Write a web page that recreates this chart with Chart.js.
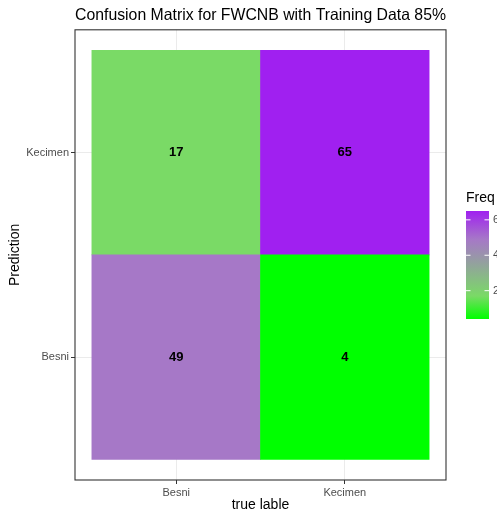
<!DOCTYPE html>
<html>
<head>
<meta charset="utf-8">
<script src="https://cdn.jsdelivr.net/npm/chart.js@4"></script>
<style>
  html, body { margin: 0; padding: 0; background: #fff; }
  canvas { display: block; }
</style>
</head>
<body>
<canvas id="chartCM" width="497" height="515"></canvas>
<script>
// data
const trueLabels = ["Besni", "Kecimen"];
const predLabels = ["Besni", "Kecimen"];
const freqPredBesni = [49, 4];     // prediction Besni, true Besni / Kecimen
const freqPredKecimen = [17, 65];  // prediction Kecimen, true Besni / Kecimen
const legendTicks = [20, 40, 60];

const allFreq = freqPredBesni.concat(freqPredKecimen);
const fMin = Math.min.apply(null, allFreq);
const fMax = Math.max.apply(null, allFreq);

// green -> purple fill scale
const stops = [
  [0, [0, 255, 0]],
  [0.213, [122, 218, 102]],
  [0.5, [146, 164, 155]],
  [0.738, [166, 120, 199]],
  [1, [160, 32, 240]]
];
function colorFor(v) {
  let t = (v - fMin) / (fMax - fMin);
  for (let i = 1; i < stops.length; i++) {
    if (t <= stops[i][0]) {
      let a = stops[i - 1], b = stops[i];
      let k = (t - a[0]) / (b[0] - a[0]);
      let c = a[1].map((x, j) => Math.round(x + (b[1][j] - x) * k));
      return "rgb(" + c.join(",") + ")";
    }
  }
  return "rgb(160,32,240)";
}

function rowDataset(values, row) {
  return {
    label: predLabels[row],
    data: values.map(function (v, i) {
      return { x: i + 1, y: [row + 0.5, row + 1.5], v: v };
    }),
    backgroundColor: values.map(colorFor),
    borderWidth: 0,
    grouped: false,
    barPercentage: 1,
    categoryPercentage: 1
  };
}

const tickColor = "#4D4D4D";

const labelPlugin = {
  id: "cellLabels",
  afterDatasetsDraw(chart) {
    const ctx = chart.ctx;
    ctx.save();
    ctx.font = "bold 13px 'Liberation Sans', Arial, sans-serif";
    ctx.fillStyle = "#000";
    ctx.textAlign = "center";
    ctx.textBaseline = "middle";
    chart.data.datasets.forEach(function (ds, di) {
      chart.getDatasetMeta(di).data.forEach(function (el, i) {
        ctx.fillText(String(ds.data[i].v), el.x, (el.y + el.base) / 2);
      });
    });
    ctx.restore();
  },
  afterDraw(chart) {
    const ctx = chart.ctx;
    const a = chart.chartArea;
    ctx.save();
    // panel border
    ctx.strokeStyle = "#333333";
    ctx.lineWidth = 1.1;
    ctx.strokeRect(a.left, a.top, a.right - a.left, a.bottom - a.top);

    // colour bar legend
    const x0 = a.right + 20, w = 23, top = 211, bot = 319;
    ctx.font = "14px 'Liberation Sans', Arial, sans-serif";
    ctx.fillStyle = "#000";
    ctx.textAlign = "left";
    ctx.textBaseline = "alphabetic";
    ctx.fillText("Freq", x0, 202);
    const g = ctx.createLinearGradient(0, bot, 0, top);
    stops.forEach(function (s) { g.addColorStop(s[0], "rgb(" + s[1].join(",") + ")"); });
    ctx.fillStyle = g;
    ctx.fillRect(x0, top, w, bot - top);
    ctx.strokeStyle = "#fff";
    ctx.lineWidth = 1;
    ctx.font = "11px 'Liberation Sans', Arial, sans-serif";
    ctx.textBaseline = "middle";
    legendTicks.forEach(function (t) {
      const y = bot - (t - fMin) / (fMax - fMin) * (bot - top);
      ctx.beginPath();
      ctx.moveTo(x0, y); ctx.lineTo(x0 + 4.5, y);
      ctx.moveTo(x0 + w - 4.5, y); ctx.lineTo(x0 + w, y);
      ctx.stroke();
      ctx.fillStyle = tickColor;
      ctx.fillText(String(t), x0 + w + 4, y);
    });
    ctx.restore();
  }
};

Chart.defaults.font.family = "'Liberation Sans', Arial, sans-serif";

new Chart(document.getElementById("chartCM"), {
  type: "bar",
  data: {
    datasets: [rowDataset(freqPredBesni, 0), rowDataset(freqPredKecimen, 1)]
  },
  options: {
    responsive: false,
    animation: false,
    layout: { padding: { left: 0, right: 51, top: 0, bottom: 0 } },
    plugins: {
      legend: { display: false },
      tooltip: { enabled: false },
      title: {
        display: true,
        text: "Confusion Matrix for FWCNB with Training Data 85%",
        fullSize: false,
        color: "#000",
        font: { size: 16.5, weight: "normal" },
        padding: { top: 6, bottom: 4 }
      }
    },
    scales: {
      x: {
        type: "linear",
        offset: false,
        min: 0.4,
        max: 2.6,
        afterBuildTicks: function (s) { s.ticks = trueLabels.map((_, i) => ({ value: i + 1 })); },
        afterFit: function (s) { s.height = 35; },
        ticks: {
          color: tickColor,
          font: { size: 11 },
          padding: 2,
          maxRotation: 0,
          callback: function (v) { return trueLabels[v - 1]; }
        },
        grid: { offset: false, color: "#EBEBEB", lineWidth: 1, tickColor: "#333333", tickLength: 4 },
        border: { display: false },
        title: { display: true, text: "true lable", color: "#000", font: { size: 14 }, padding: { top: 0, bottom: 1 } }
      },
      y: {
        type: "linear",
        offset: false,
        min: 0.4,
        max: 2.6,
        afterBuildTicks: function (s) { s.ticks = predLabels.map((_, i) => ({ value: i + 1 })); },
        afterFit: function (s) { s.width = 75; },
        ticks: {
          color: tickColor,
          font: { size: 11 },
          padding: 2,
          callback: function (v) { return predLabels[v - 1]; }
        },
        grid: { offset: false, color: "#EBEBEB", lineWidth: 1, tickColor: "#333333", tickLength: 4 },
        border: { display: false },
        title: { display: true, text: "Prediction", color: "#000", font: { size: 14 }, padding: { top: 7, bottom: 0 } }
      }
    }
  },
  plugins: [labelPlugin]
});
</script>
</body>
</html>
